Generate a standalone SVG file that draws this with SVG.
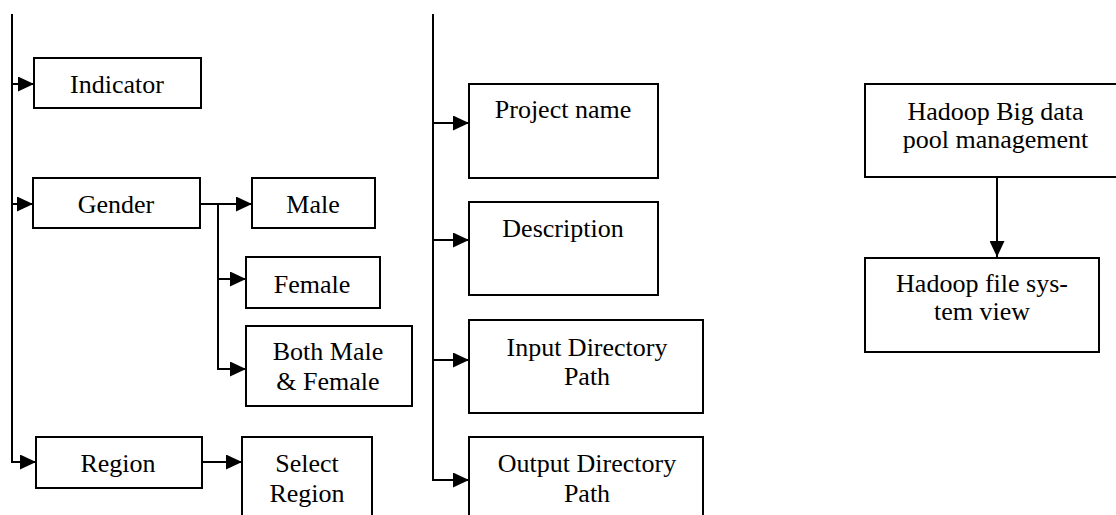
<svg xmlns="http://www.w3.org/2000/svg" width="1116" height="515" viewBox="0 0 1116 515">
<style>
.box{fill:#fff;stroke:#000;stroke-width:2}
.t{font-family:"Liberation Serif","Times New Roman",serif;font-size:26px;fill:#000;text-anchor:middle}
.c{fill:none;stroke:#000;stroke-width:2}
</style>
<defs>
<marker id="ah" viewBox="0 0 16 15" refX="16" refY="7.5" markerWidth="16" markerHeight="15" markerUnits="userSpaceOnUse" orient="auto">
<path d="M0,0 L16,7.5 L0,15 z" fill="#000"/>
</marker>
</defs>
<rect width="1116" height="515" fill="#fff"/>
<g id="connectors">
<path class="c" d="M12,14 V462 H36" marker-end="url(#ah)"/>
<path class="c" d="M11,84 H34" marker-end="url(#ah)"/>
<path class="c" d="M11,204 H33" marker-end="url(#ah)"/>
<path class="c" d="M200,204 H252" marker-end="url(#ah)"/>
<path class="c" d="M218,204 V369 H246" marker-end="url(#ah)"/>
<path class="c" d="M217,279 H246" marker-end="url(#ah)"/>
<path class="c" d="M202,462 H242" marker-end="url(#ah)"/>
<path class="c" d="M433,14 V480 H469" marker-end="url(#ah)"/>
<path class="c" d="M432,123 H469" marker-end="url(#ah)"/>
<path class="c" d="M432,240 H469" marker-end="url(#ah)"/>
<path class="c" d="M432,360 H469" marker-end="url(#ah)"/>
<path class="c" d="M997,177 V257" marker-end="url(#ah)"/>
</g>
<g id="indicator"><rect class="box" x="34" y="58" width="167" height="50"/><text class="t" x="117" y="93">Indicator</text></g>
<g id="gender"><rect class="box" x="33" y="178" width="167" height="50"/><text class="t" x="116" y="213">Gender</text></g>
<g id="male"><rect class="box" x="252" y="178" width="123" height="50"/><text class="t" x="313" y="213">Male</text></g>
<g id="female"><rect class="box" x="246" y="257" width="134" height="51"/><text class="t" x="312" y="293">Female</text></g>
<g id="both"><rect class="box" x="246" y="326" width="166" height="80"/><text class="t" x="328" y="360">Both Male</text><text class="t" x="328" y="390">&amp; Female</text></g>
<g id="region"><rect class="box" x="36" y="437" width="166" height="51"/><text class="t" x="118" y="472">Region</text></g>
<g id="select-region"><rect class="box" x="242" y="437" width="130" height="90"/><text class="t" x="307" y="472">Select</text><text class="t" x="307" y="502">Region</text></g>
<g id="project-name"><rect class="box" x="469" y="84" width="189" height="94"/><text class="t" x="563" y="118">Project name</text></g>
<g id="description"><rect class="box" x="469" y="202" width="189" height="93"/><text class="t" x="563" y="237">Description</text></g>
<g id="input-dir"><rect class="box" x="469" y="320" width="234" height="93"/><text class="t" x="587" y="356">Input Directory</text><text class="t" x="587" y="385">Path</text></g>
<g id="output-dir"><rect class="box" x="469" y="437" width="234" height="90"/><text class="t" x="587" y="472">Output Directory</text><text class="t" x="587" y="502">Path</text></g>
<g id="hadoop-pool"><rect class="box" x="865" y="84" width="260" height="93"/><text class="t" x="995.5" y="120">Hadoop Big data</text><text class="t" x="995.5" y="148">pool management</text></g>
<g id="hadoop-fs"><rect class="box" x="865" y="258" width="234" height="94"/><text class="t" x="982" y="292">Hadoop file sys-</text><text class="t" x="982" y="320">tem view</text></g>
</svg>
